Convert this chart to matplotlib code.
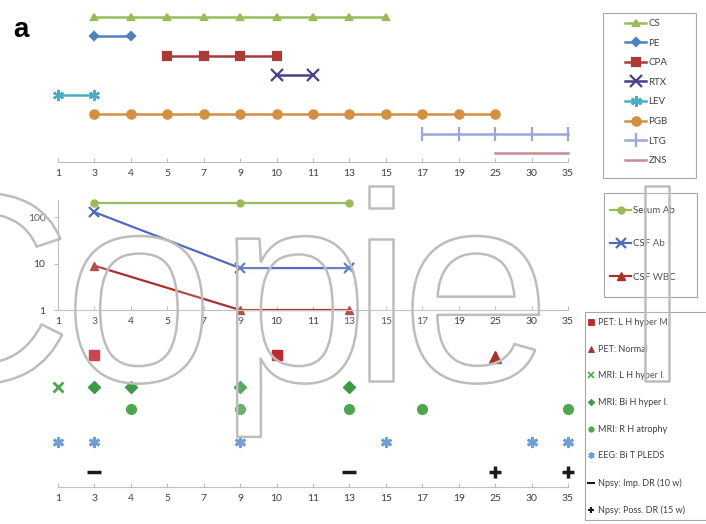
import matplotlib.pyplot as plt
import matplotlib.patheffects as pe
from matplotlib.lines import Line2D
from matplotlib.patches import Rectangle

plt.rcParams['font.family'] = ['Lato', 'DejaVu Sans']

# category axis (days), evenly spaced as in the original spreadsheet chart
categories = ['1', '3', '4', '5', '7', '9', '10', '11', '13', '15', '17', '19', '25', '30', '35']

# panel 1: treatments (days on treatment)
cs_days = [3, 4, 5, 7, 9, 10, 11, 13, 15]
pe_days = [3, 4]
cpa_days = [5, 7, 9, 10]
rtx_days = [10, 11]
lev_days = [1, 3]
pgb_days = [3, 4, 5, 7, 9, 10, 11, 13, 15, 17, 19, 25]
ltg_days = [17, 19, 25, 30, 35]
zns_days = [25, 30, 35]
treat_rows = [8, 7, 6, 5, 4, 3, 2, 1]

# panel 2: antibody titres / cell count (log scale)
lab_days = [3, 9, 13]
serum_ab = [200, 200, 200]
csf_ab = [128, 8, 8]
csf_wbc = [9, 1, 1]

# panel 3: investigations
pet_hyper_days = [3, 10]
pet_normal_days = [25]
mri_l_days = [1]
mri_bi_days = [3, 4, 9, 13]
mri_atrophy_days = [4, 9, 13, 17, 35]
eeg_days = [1, 3, 9, 15, 30, 35]
npsy_imp_days = [3, 13]
npsy_poss_days = [25, 35]
exam_rows = [4.4, 4.33, 3.33, 3.33, 2.6, 1.5, 0.5, 0.5]

W, H = 706, 524
fig = plt.figure(figsize=(W / 100, H / 100), dpi=100)

GRID = '#BFBFBF'
TXT = '#404040'


def px_axes(x0, y0, x1, y1):
    return fig.add_axes([x0 / W, 1 - y1 / H, (x1 - x0) / W, (y1 - y0) / H])


def idx(days):
    return [categories.index(str(d)) for d in days]


def style_axis(ax):
    for s in ['top', 'right', 'left']:
        ax.spines[s].set_visible(False)
    ax.spines['bottom'].set_color(GRID)
    ax.set_xlim(0, 14)
    ax.set_xticks(range(len(categories)))
    ax.set_xticklabels(categories)
    ax.tick_params(axis='x', direction='in', length=3, color=GRID,
                   labelsize=7.5, labelcolor=TXT, pad=5)
    ax.set_yticks([])
    ax.patch.set_alpha(0)


def box(x0, y0, x1, y1):
    fig.add_artist(Rectangle((x0 / W, 1 - y1 / H), (x1 - x0) / W, (y1 - y0) / H,
                             transform=fig.transFigure, fill=False,
                             edgecolor='#A6A6A6', lw=0.8))


# ---- top panel: treatments
ax1 = px_axes(58, 10, 568, 162)
style_axis(ax1)
ax1.set_ylim(0.537, 8.36)

treat_styles = [
    ('CS', cs_days, '#9BBB59', '^', 5),
    ('PE', pe_days, '#4F81BD', 'D', 4),
    ('CPA', cpa_days, '#A93A37', 's', 6),
    ('RTX', rtx_days, '#4B3F8C', 'x', 8),
    ('LEV', lev_days, '#4BACC6', (6, 2, 0), 8),
    ('PGB', pgb_days, '#D38F42', 'o', 6),
    ('LTG', ltg_days, '#9BA6D8', '|', 10),
    ('ZNS', zns_days, '#C98A8E', 'None', 0),
]
h1 = []
for (name, days, col, mk, ms), row in zip(treat_styles, treat_rows):
    xs = idx(days)
    ln, = ax1.plot(xs, [row] * len(xs), color=col, lw=1.8, marker=mk, ms=ms,
                   mew=1.6, clip_on=False, label=name)
    h1.append(ln)

box(603, 13, 696, 178)
fig.legend(handles=h1, loc='upper left', bbox_to_anchor=(625 / W, 1 - 19 / H),
           frameon=False, fontsize=7, labelspacing=1.09, handlelength=2.2,
           handletextpad=0.2, borderpad=0, borderaxespad=0, labelcolor=TXT)

# ---- middle panel: lab values
ax2 = px_axes(58, 200, 568, 310)
style_axis(ax2)
ax2.set_yscale('log')
ax2.set_ylim(1, 234)
ax2.spines['left'].set_visible(True)
ax2.spines['left'].set_color(GRID)
ax2.set_yticks([1, 10, 100])
ax2.set_yticklabels(['1', '10', '100'])
ax2.yaxis.set_minor_locator(plt.NullLocator())
ax2.tick_params(axis='y', direction='out', length=3, color=GRID,
                labelsize=7.5, labelcolor=TXT, pad=6)

lx = idx(lab_days)
h2 = [
    ax2.plot(lx, serum_ab, color='#9BBB59', lw=1.6, marker='o', ms=5,
             clip_on=False, label='Serum Ab')[0],
    ax2.plot(lx, csf_ab, color='#4F6BBD', lw=1.6, marker='x', ms=7, mew=1.6,
             clip_on=False, label='CSF Ab')[0],
    ax2.plot(lx, csf_wbc, color='#A8302D', lw=1.6, marker='^', ms=6,
             clip_on=False, label='CSF WBC')[0],
]
box(604, 193, 697, 297)
fig.legend(handles=h2, loc='upper left', bbox_to_anchor=(610 / W, 1 - 206 / H),
           frameon=False, fontsize=7, labelspacing=2.5, handlelength=2.2,
           handletextpad=0.2, borderpad=0, borderaxespad=0, labelcolor=TXT)

# ---- bottom panel: investigations
ax3 = px_axes(58, 337, 568, 487)
style_axis(ax3)
ax3.set_ylim(0, 5)

exam_styles = [
    ('PET: L H hyper M.', pet_hyper_days, '#C0262B', 's', 7, 1),
    ('PET: Normal', pet_normal_days, '#A8302D', '^', 8, 1),
    ('MRI: L H hyper I.', mri_l_days, '#4EA64E', 'x', 7, 2),
    ('MRI: Bi H hyper I.', mri_bi_days, '#3E9A47', 'D', 6, 1),
    ('MRI: R H atrophy', mri_atrophy_days, '#4EA64E', 'o', 7, 1),
    ('EEG: Bi T PLEDS', eeg_days, '#6F9FD8', (6, 2, 0), 8, 2),
    ('Npsy: Imp. DR (10 w)', npsy_imp_days, '#1A1A1A', '_', 10, 2.5),
    ('Npsy: Poss. DR (15 w)', npsy_poss_days, '#1A1A1A', '+', 8, 2.5),
]
h3 = []
for (name, days, col, mk, ms, mw), row in zip(exam_styles, exam_rows):
    xs = idx(days)
    ax3.plot(xs, [row] * len(xs), ls='none', color=col, marker=mk, ms=ms,
             mew=mw, clip_on=False)
    h3.append(Line2D([], [], ls='none', color=col, marker=mk,
                     ms=ms * 0.55, mew=mw * 0.6, label=name))

box(585, 312, 720, 520)
fig.legend(handles=h3, loc='upper left', bbox_to_anchor=(587 / W, 1 - 318 / H),
           frameon=False, fontsize=6.5, labelspacing=1.96, handlelength=0.9,
           handletextpad=0.3, borderpad=0, borderaxespad=0, labelcolor=TXT)

# panel letter
fig.text(13 / W, 1 - 37 / H, 'a', fontsize=20, fontweight='bold',
         family='Liberation Sans', va='baseline', ha='left')

# watermark letters (outlined, nearly transparent)
mark = [('C', -25), ('o', 139), ('p', 294), ('i', 381), ('e', 476), ('l', 657)]
for ch, cx in mark:
    fig.text(cx / W, 1 - 381 / H, ch, fontsize=194, family='Liberation Sans',
             ha='center', va='baseline', color=(1, 1, 1, 0.15), zorder=10,
             path_effects=[pe.Stroke(linewidth=1.8, foreground='#BDBDBD')])

fig.savefig('out.png', dpi=100)
